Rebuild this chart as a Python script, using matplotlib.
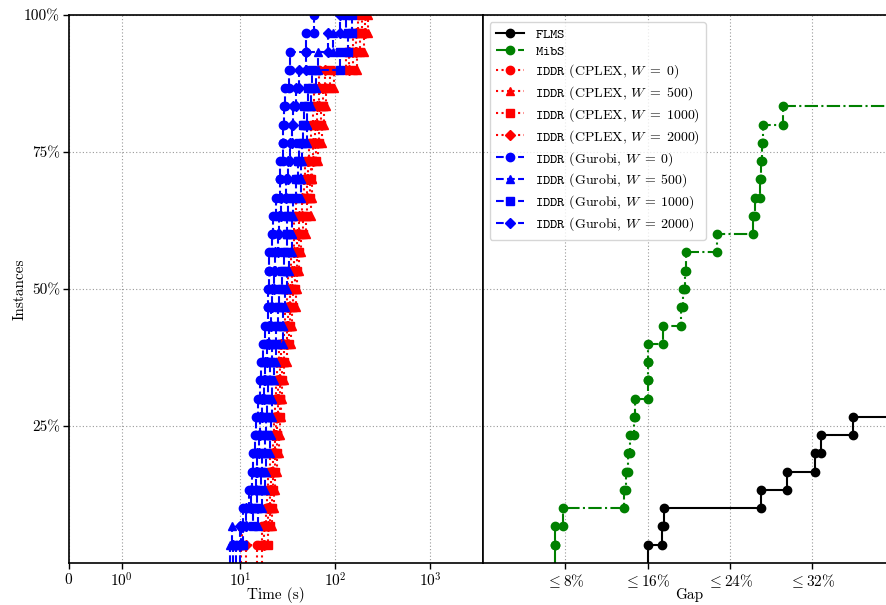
import matplotlib
matplotlib.use("Agg")
import matplotlib.pyplot as plt
from matplotlib.ticker import NullLocator

plt.rcParams['font.family'] = 'serif'
plt.rcParams['font.serif'] = ['cmr10']
plt.rcParams['mathtext.fontset'] = 'cm'
plt.rcParams['axes.formatter.use_mathtext'] = True
plt.rcParams['axes.unicode_minus'] = False

N_INSTANCES = 30

# ---------------- data: solve times (s), sorted, per IDDR configuration ----------------
cplex_w0 = [14.86, 16.77, 18.49, 18.94, 19.41, 20.37, 21.91, 22.45, 23.00, 23.57, 24.15, 25.35, 28.62, 29.33, 30.79,
            31.54, 33.93, 36.49, 36.49, 38.31, 46.52, 47.66, 52.53, 55.14, 57.89, 59.31, 66.97, 129.3, 153.0, 172.5]
cplex_w500 = [10.07, 10.32, 21.39, 22.45, 23.00, 24.15, 25.35, 25.97, 26.61, 27.27, 28.62, 30.79, 33.93, 34.76, 38.31,
              39.25, 41.20, 43.25, 48.84, 55.14, 56.50, 56.50, 65.36, 72.03, 75.61, 79.38, 96.39, 168.3, 199.6, 219.9]
cplex_w1000 = [16.77, 19.41, 20.37, 21.39, 21.91, 23.00, 24.15, 24.15, 25.97, 25.97, 27.27, 28.62, 32.32, 33.11, 35.61,
               37.39, 39.25, 41.20, 45.40, 50.04, 53.82, 55.14, 62.26, 66.97, 70.30, 73.80, 87.47, 153.0, 181.0, 190.1]
cplex_w2000 = [11.38, 17.61, 19.41, 20.37, 20.87, 21.91, 23.00, 23.57, 24.74, 24.74, 25.97, 26.61, 30.79, 31.54, 33.11,
               34.76, 36.49, 39.25, 41.20, 44.32, 50.04, 51.27, 57.89, 60.79, 63.79, 66.97, 77.47, 139.1, 164.3, 204.5]
gurobi_w0 = [8.92, 10.07, 10.58, 12.23, 13.16, 13.48, 14.15, 14.50, 15.22, 15.98, 16.37, 17.19, 18.04, 19.41, 19.41,
             19.88, 19.88, 21.39, 21.91, 23.57, 25.97, 25.97, 27.94, 27.94, 28.62, 29.33, 32.32, 33.11, 48.84, 59.31]
gurobi_w500 = [7.71, 8.10, 15.22, 16.77, 18.04, 18.49, 20.37, 20.87, 21.39, 21.39, 22.45, 23.57, 27.94, 27.94, 29.33,
               30.79, 32.32, 34.76, 34.76, 35.61, 43.25, 43.25, 44.32, 50.04, 50.04, 55.14, 62.26, 65.36, 94.08, 129.3]
gurobi_w1000 = [9.83, 10.58, 13.48, 14.86, 16.37, 16.77, 18.04, 18.49, 18.94, 19.41, 20.37, 21.39, 23.57, 24.74, 25.35,
                27.27, 28.62, 30.79, 30.79, 31.54, 38.31, 40.21, 41.20, 45.40, 46.52, 51.27, 56.50, 111.9, 135.7, 149.4]
gurobi_w2000 = [8.29, 9.83, 11.38, 12.84, 14.50, 14.86, 15.60, 15.98, 16.77, 17.61, 18.04, 18.94, 19.88, 20.87, 21.39,
                22.45, 23.00, 24.74, 25.35, 26.61, 30.05, 31.54, 33.11, 34.76, 35.61, 38.31, 41.20, 48.84, 83.32, 111.9]

# ---------------- data: final gaps (%), sorted ----------------
flms_gap = [16.06, 17.42, 17.58, 27.0, 29.55, 32.27, 32.83, 35.96]
mibs_gap = [7.03, 7.03, 7.81, 13.7, 13.92, 14.09, 14.31, 14.70, 14.77, 16.03, 16.03, 16.03, 17.51, 19.26, 19.49,
            19.65, 19.72, 22.73, 26.2, 26.42, 26.9, 27.06, 27.16, 27.22, 29.19]

series_labels = [r"$\mathtt{IDDR}$ (CPLEX, $W\;=\;0$)", r"$\mathtt{IDDR}$ (CPLEX, $W\;=\;500$)",
                 r"$\mathtt{IDDR}$ (CPLEX, $W\;=\;1000$)", r"$\mathtt{IDDR}$ (CPLEX, $W\;=\;2000$)",
                 r"$\mathtt{IDDR}$ (Gurobi, $W\;=\;0$)", r"$\mathtt{IDDR}$ (Gurobi, $W\;=\;500$)",
                 r"$\mathtt{IDDR}$ (Gurobi, $W\;=\;1000$)", r"$\mathtt{IDDR}$ (Gurobi, $W\;=\;2000$)"]
time_ticks = [0, 1, 10, 100, 1000]
time_ticklabels = [r"$0$", r"$10^0$", r"$10^1$", r"$10^2$", r"$10^3$"]
gap_ticks = [8, 16, 24, 32]
gap_ticklabels = [r"$\leq 8\%$", r"$\leq 16\%$", r"$\leq 24\%$", r"$\leq 32\%$"]
y_ticks = [0.25, 0.5, 0.75, 1.0]
y_ticklabels = ["25%", "50%", "75%", "100%"]

TIME_LIMIT = 3600
GAP_MAX = 40


def step_path(values, n_total, x_end=None):
    xs, ys = [], []
    for i, v in enumerate(values):
        xs += [v, v]
        ys += [i / n_total, (i + 1) / n_total]
    if x_end is not None:
        xs.append(x_end)
        ys.append(len(values) / n_total)
    return xs, ys


W, H = 887, 605
fig = plt.figure(figsize=(W / 100, H / 100), dpi=100)
top_px, bot_px = 15, 563
axL = fig.add_axes([69 / W, 1 - bot_px / H, (482.7 - 69) / W, (bot_px - top_px) / H])
axR = fig.add_axes([482.7 / W, 1 - bot_px / H, 412 / W, (bot_px - top_px) / H], sharey=axL)

for ax in (axL, axR):
    for s in ax.spines.values():
        s.set_linewidth(1.2)
    ax.grid(True, color='#999999', linestyle=(0, (1, 2)), linewidth=0.8)
    ax.set_axisbelow(True)

ms = 6
marker_sizes = {'o': ms, '^': ms, 's': ms - 0.5, 'D': ms - 1.3}
handles = []

xs, ys = step_path(flms_gap, N_INSTANCES, GAP_MAX)
h, = axR.plot(xs, ys, color='black', linestyle='-', marker='o', markersize=ms, linewidth=1.5,
              markevery=slice(1, -1), label=r"$\mathtt{FLMS}$")
handles.append(h)
xs, ys = step_path(mibs_gap, N_INSTANCES, GAP_MAX)
h, = axR.plot(xs, ys, color='green', linestyle='-.', marker='o', markersize=ms, linewidth=1.5,
              markevery=slice(1, -1), label=r"$\mathtt{MibS}$")
handles.append(h)

all_series = [cplex_w0, cplex_w500, cplex_w1000, cplex_w2000, gurobi_w0, gurobi_w500, gurobi_w1000, gurobi_w2000]
markers = ['o', '^', 's', 'D'] * 2
colors = ['red'] * 4 + ['blue'] * 4
styles = [':'] * 4 + ['--'] * 4
for vals, mk, col, ls, lab in zip(all_series, markers, colors, styles, series_labels):
    xs, ys = step_path(vals, N_INSTANCES)
    h, = axL.plot(xs, ys, color=col, linestyle=ls, marker=mk, markersize=marker_sizes[mk], linewidth=1.5,
                  markevery=slice(1, None), label=lab)
    handles.append(h)

axL.set_xscale('symlog', linthresh=2, linscale=1)
axL.set_xlim(0, TIME_LIMIT)
axL.set_xticks(time_ticks)
axL.set_xticklabels(time_ticklabels)
axL.xaxis.set_minor_locator(NullLocator())
axL.set_ylim(0, 1)
axL.set_yticks(y_ticks)
axL.set_yticklabels(y_ticklabels)
axL.set_xlabel("Time (s)", fontsize=11)
axL.set_ylabel("Instances", fontsize=11)
axL.xaxis.label.set_va('center')
axL.xaxis.set_label_coords(0.5, -0.0575)
axL.yaxis.label.set_va('center')
axL.yaxis.set_label_coords(-0.12, 0.5)

axR.set_xlim(0, GAP_MAX)
axR.set_xticks(gap_ticks)
axR.set_xticklabels(gap_ticklabels)
axR.set_xlabel("Gap", fontsize=11)
axR.xaxis.label.set_va('center')
axR.xaxis.set_label_coords(0.5, -0.0575)
axR.tick_params(axis='y', left=False, labelleft=False)

for ax in (axL, axR):
    ax.tick_params(axis='both', labelsize=11, direction='out', length=4, width=1.0, pad=2.5)

axR.legend(handles=handles, loc='upper left', fontsize=10, frameon=True, borderaxespad=0.5,
           handlelength=2.0, labelspacing=0.3, borderpad=0.45, handletextpad=0.8)

fig.savefig("out.png", dpi=100)
